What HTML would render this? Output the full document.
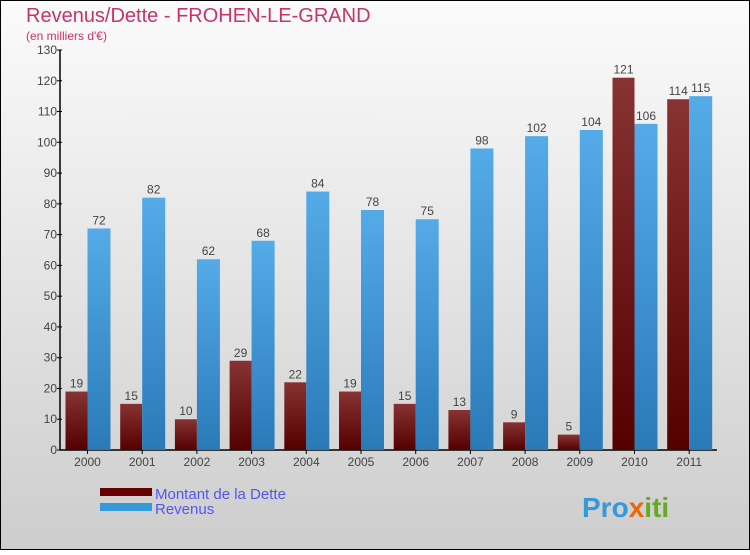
<!DOCTYPE html>
<html><head><meta charset="utf-8"><style>
body{margin:0;width:750px;height:550px;overflow:hidden;font-family:"Liberation Sans",sans-serif}
</style></head><body>
<svg width="750" height="550" xmlns="http://www.w3.org/2000/svg">
<defs>
<linearGradient id="bg" x1="0" y1="0" x2="0" y2="1"><stop offset="0" stop-color="#fbfbfb"/><stop offset="1" stop-color="#cdcdcd"/></linearGradient>
<linearGradient id="gd" x1="0" y1="0" x2="0" y2="1"><stop offset="0" stop-color="#883333"/><stop offset="1" stop-color="#550000"/></linearGradient>
<linearGradient id="gr" x1="0" y1="0" x2="0" y2="1"><stop offset="0" stop-color="#55aae8"/><stop offset="1" stop-color="#2a7ab8"/></linearGradient>
</defs>
<rect x="0.5" y="0.5" width="749" height="549" fill="url(#bg)" stroke="#000"/>
<text x="26" y="22" font-size="20" fill="#c8336a">Revenus/Dette - FROHEN-LE-GRAND</text>
<text x="26" y="40" font-size="12" fill="#c8336a">(en milliers d'€)</text>
<g id="yaxis"></g>
<g id="bars"></g>
<rect x="100" y="488" width="52" height="8" fill="#660000"/>
<rect x="100" y="503" width="52" height="8" fill="#3399dd"/>
<text x="155" y="499" font-size="15" fill="#5555ee">Montant de la Dette</text>
<text x="155" y="514" font-size="15" fill="#5555ee">Revenus</text>
<text x="582" y="517" font-size="28" font-weight="bold"><tspan fill="#3399dd">Pro</tspan><tspan fill="#ee6600">x</tspan><tspan fill="#66aa22">iti</tspan></text>
</svg>
<script>
const years=["2000","2001","2002","2003","2004","2005","2006","2007","2008","2009","2010","2011"];
const dette=[19,15,10,29,22,19,15,13,9,5,121,114];
const revenus=[72,82,62,68,84,78,75,98,102,104,106,115];
const yTicks=[0,10,20,30,40,50,60,70,80,90,100,110,120,130];
const NS="http://www.w3.org/2000/svg";
const y0=450,yTop=50,yMax=130;
function y(v){return y0-(v/yMax)*(y0-yTop);}
function cx(i){return 87.5+i*54.7;}
function mk(tag,at,parent,txt){const e=document.createElementNS(NS,tag);for(const k in at)e.setAttribute(k,at[k]);if(txt!==undefined)e.textContent=txt;parent.appendChild(e);return e;}
const ya=document.getElementById('yaxis');
let l=mk('line',{x1:60,y1:yTop,x2:60,y2:y0,stroke:'#000','stroke-width':1.5},ya);


l=mk('line',{x1:60,y1:y0,x2:717,y2:y0,stroke:'#000','stroke-width':1.5},ya);


yTicks.forEach(t=>{
 const tk=mk('line',{x1:57,y1:y(t),x2:62,y2:y(t),stroke:'#000'},ya);
 
 
 const tl=mk('text',{x:57,y:y(t)+4,'font-size':12,fill:'#444','text-anchor':'end'},ya,String(t));
 
 
});
const bg=document.getElementById('bars');
years.forEach((yr,i)=>{
 const c=cx(i);
 const bd=mk('rect',{x:c-22,y:y(dette[i]),width:22,height:y0-y(dette[i]),fill:'url(#gd)'},bg);
 
 
 const br=mk('rect',{x:c,y:y(revenus[i]),width:23,height:y0-y(revenus[i]),fill:'url(#gr)'},bg);
 
 
 const ld=mk('text',{x:c-11,y:y(dette[i])-4,'font-size':12,fill:'#444','text-anchor':'middle'},bg,String(dette[i]));
 
 
 const lr=mk('text',{x:c+11.5,y:y(revenus[i])-4,'font-size':12,fill:'#444','text-anchor':'middle'},bg,String(revenus[i]));
 
 
 const xt=mk('line',{x1:c,y1:y0,x2:c,y2:y0+4,stroke:'#000'},bg);
 
 
 const xl=mk('text',{x:c,y:y0+16,'font-size':12,fill:'#444','text-anchor':'middle'},bg,yr);
 
 
});
</script>
</body></html>
